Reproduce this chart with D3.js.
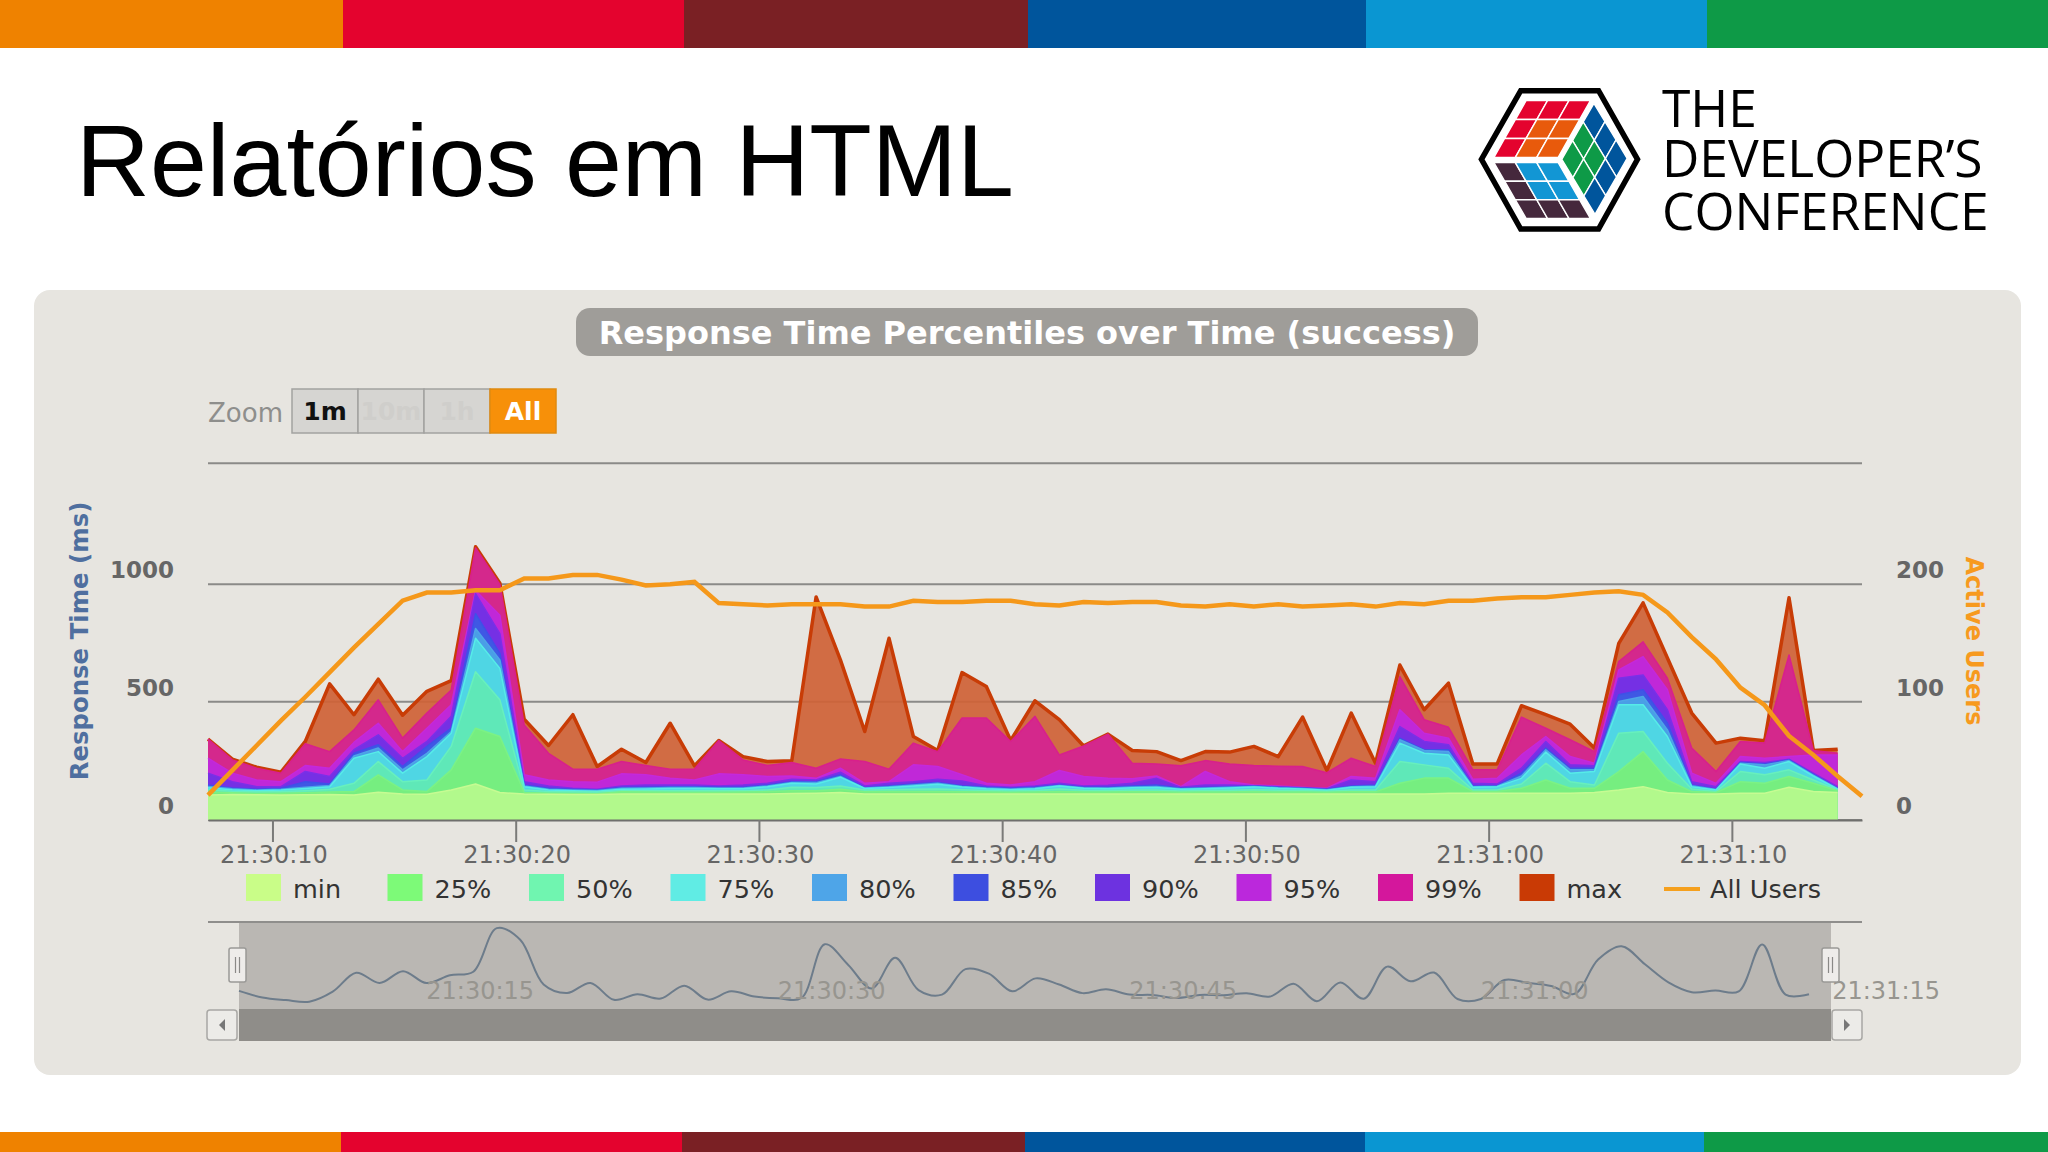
<!DOCTYPE html>
<html>
<head>
<meta charset="utf-8">
<title>Relatórios em HTML</title>
<script src="https://cdn.jsdelivr.net/npm/d3@7"></script>
<style>
  html, body { margin: 0; padding: 0; background: #fff; }
  svg { display: block; }
  text { font-family: "DejaVu Sans", sans-serif; }
</style>
</head>
<body>
<svg id="slide" width="2048" height="1152"></svg>
<script>
// Chart values, one point per second
const seriesNames = ["max", "99%", "95%", "90%", "85%", "80%", "75%", "50%", "25%", "min"];
const legendNames = ["min", "25%", "50%", "75%", "80%", "85%", "90%", "95%", "99%", "max"];
const legendColors = ["#c9fd88", "#7dfa78", "#70f5b0", "#60ece4", "#4ea5e8", "#3d4ee0", "#6d32e0", "#bb28dc", "#d4179c", "#c93a05"];
const areaColors = ["#cf6236", "#d4288c", "#c028d8", "#7530e4", "#3f58e4", "#4a9ee6", "#4fd6e4", "#5fe8b8", "#76ee80", "#b2f98c"];
const lineColors = ["#c83c06", "#d8208c", "#c428dc", "#7a30e8", "#3f50e8", "#4ea5e8", "#56ece8", "#68f0bc", "#7cf284", "#c6fb92"];

const maxValues = [342,257,223,202,332,576,445,596,443,544,590,1155,1004,426,315,445,226,299,243,409,229,336,268,247,250,946,678,374,770,353,294,624,565,336,504,424,313,363,294,289,251,289,287,311,268,435,209,452,240,656,466,579,237,237,483,445,405,304,748,921,686,452,325,346,335,943,294,299];
const p99Values = [342,254,219,198,322,289,381,508,346,452,550,1150,1000,402,282,215,215,247,230,215,216,336,254,230,243,219,258,247,215,325,289,431,431,332,438,275,313,363,240,237,229,251,237,230,227,226,200,261,226,607,424,392,212,212,435,388,339,289,671,755,600,304,205,332,325,699,294,282];
const p95Values = [261,198,169,162,230,219,328,409,289,388,487,974,868,191,169,162,160,195,191,176,169,195,191,184,186,176,219,155,162,233,226,191,155,148,162,209,184,176,174,186,141,205,162,148,144,138,134,184,176,466,367,346,172,176,275,353,268,240,635,692,551,198,155,268,261,268,275,275];
const p90Values = [198,162,141,141,205,184,297,360,261,332,438,960,790,162,144,134,130,144,148,148,148,144,148,155,172,169,202,144,155,162,172,165,144,138,144,155,144,147,155,176,138,148,148,145,141,136,132,169,162,395,332,318,155,152,219,332,233,229,600,614,466,162,141,247,243,257,198,141];
const p85Values = [148,135,130,134,162,152,282,318,226,311,388,875,706,148,134,130,127,137,138,141,141,138,138,148,162,162,191,136,144,152,158,145,138,134,138,148,138,138,144,148,134,137,141,144,138,135,130,144,148,346,297,297,144,145,198,304,219,219,530,551,410,148,130,243,237,254,193,134];
const p80Values = [142,132,127,130,138,146,271,304,212,282,374,812,678,144,130,127,125,134,135,137,137,135,135,144,158,158,184,135,141,148,155,142,135,131,135,146,136,135,140,142,132,135,138,142,136,133,128,141,144,339,294,289,141,143,186,297,212,212,501,522,381,145,129,240,233,251,190,132];
const p75Values = [136,128,124,127,133,141,261,289,198,268,367,770,642,141,127,124,122,130,131,133,133,132,132,141,155,152,181,133,137,144,151,139,132,128,132,144,134,132,136,137,130,132,135,140,134,131,126,138,141,325,282,275,138,141,176,287,198,205,487,487,353,141,127,237,219,247,186,130];
const p50Values = [128,122,119,120,124,130,155,247,162,169,311,628,508,127,120,119,118,124,124,124,124,124,124,127,138,137,144,127,128,130,131,128,125,123,125,131,126,125,127,127,123,125,126,128,126,125,122,127,127,247,233,219,127,127,152,240,162,148,367,374,240,131,120,205,191,212,169,127];
const p25Values = [118,115,112,113,115,118,120,191,127,120,212,388,353,116,113,112,111,119,118,117,117,117,118,120,124,124,130,119,120,120,120,119,118,117,118,120,118,118,119,119,117,118,118,120,118,118,117,119,119,155,177,177,120,120,134,169,134,134,205,289,169,120,116,162,155,184,155,124];
const minValues = [106,108,107,106,107,108,106,117,110,109,127,152,116,110,109,108,108,110,110,110,110,110,110,110,112,113,116,110,110,110,110,110,110,110,110,110,110,110,110,110,110,110,110,110,110,110,110,110,110,110,110,113,113,113,113,113,113,116,127,141,116,110,110,113,113,138,120,116];
const userValues = [21,42,63,84,104,125,146,166,186,193,193,195,195,205,205,208,208,204,199,200,202,184,183,182,183,183,183,181,181,186,185,185,186,186,183,182,185,184,185,185,182,181,183,181,183,181,182,183,181,184,183,186,186,188,189,189,191,193,194,191,176,155,136,112,97,71,55,37,20];

const allSeries = [maxValues, p99Values, p95Values, p90Values, p85Values, p80Values, p75Values, p50Values, p25Values, minValues];

// Axis ticks
const responseTicks = [0, 500, 1000, 1500];
const userTicks = [0, 100, 200];
const timeTicks = ["21:30:10", "21:30:20", "21:30:30", "21:30:40", "21:30:50", "21:31:00", "21:31:10"];
const navTicks = ["21:30:15", "21:30:30", "21:30:45", "21:31:00", "21:31:15"];
const zoomButtons = ["1m", "10m", "1h", "All"];

// Slide decoration
const stripColors = ["#ef8200", "#e4032e", "#7a2024", "#00559c", "#0a96d2", "#0e9a47"];
const topStripEdges = [0, 343, 684, 1028, 1366, 1707, 2048];
const bottomStripEdges = [0, 341, 682, 1025, 1365, 1704, 2048];

const svg = d3.select("#slide");
const parseTime = d3.timeParse("%H:%M:%S");
const formatTime = d3.timeFormat("%H:%M:%S");

// The first sample falls 2.65 s before the 21:30:10 tick
const startTime = new Date(+parseTime("21:30:10") - 2650);
const timeOf = i => new Date(+startTime + i * 1000);

const x = d3.scaleTime().domain([timeOf(0), timeOf(68)]).range([208, 1862]);
const y = d3.scaleLinear().domain(responseTicks).range([820, 701.7, 584.3, 463.3]);
const yUsers = d3.scaleLinear().domain(userTicks).range([820, 701.7, 584.3]);
const navX = d3.scaleTime().domain([timeOf(0), timeOf(67)]).range([239, 1809]);
const navY = d3.scaleLinear().domain([202, 1160]).range([1001.7, 927.7]);

// Colour strips at top and bottom of the slide
function drawStrip(edges, top, height) {
  svg.append("g").selectAll("rect")
    .data(stripColors)
    .join("rect")
    .attr("x", (d, i) => edges[i])
    .attr("width", (d, i) => edges[i + 1] - edges[i])
    .attr("y", top)
    .attr("height", height)
    .attr("fill", d => d);
}
drawStrip(topStripEdges, 0, 48);
drawStrip(bottomStripEdges, 1132, 20);

svg.append("text")
  .attr("x", 76).attr("y", 196)
  .style("font-family", "'Liberation Sans', sans-serif")
  .style("font-size", "102.3px")
  .attr("fill", "#000")
  .text("Relatórios em HTML");

// Logo: hexagon with a cube made of three 3x3 faces
function drawLogo() {
  const logo = svg.append("g");
  const sx = v => 1460 + v / 2.8;
  const sy = v => 70 + v / 3;
  const hexagon = [[60, 268], [170, 62], [388, 62], [497, 268], [388, 477], [170, 477]];
  logo.append("polygon")
    .attr("points", hexagon.map(p => [sx(p[0]), sy(p[1])].join(",")).join(" "))
    .attr("fill", "#fff").attr("stroke", "#000").attr("stroke-width", 5.5);

  const red = "#e4032e", org = "#e85a0c", dark = "#45283c", blu = "#1296d4", deep = "#00559c", grn = "#0e9a47";
  const faces = [
    { o: [185, 92], u: [180, 0], v: [-90, 170], cells: [[red, red, red], [red, org, org], [red, org, org]] },
    { o: [95, 278], u: [180, 0], v: [90, 167], cells: [[dark, blu, blu], [dark, blu, blu], [dark, dark, dark]] },
    { o: [375, 100], u: [93, 165], v: [-90, 168], cells: [[deep, grn, grn], [deep, grn, grn], [deep, deep, deep]] }
  ];
  faces.forEach(face => {
    face.cells.forEach((row, r) => {
      row.forEach((color, c) => {
        const corner = (a, b) => {
          const px = face.o[0] + face.u[0] * a / 3 + face.v[0] * b / 3;
          const py = face.o[1] + face.u[1] * a / 3 + face.v[1] * b / 3;
          return [sx(px), sy(py)].join(",");
        };
        const pts = face === faces[2]
          ? [corner(r, c), corner(r + 1, c), corner(r + 1, c + 1), corner(r, c + 1)]
          : [corner(c, r), corner(c + 1, r), corner(c + 1, r + 1), corner(c, r + 1)];
        logo.append("polygon")
          .attr("points", pts.join(" "))
          .attr("fill", color).attr("stroke", "#fff").attr("stroke-width", 1.4);
      });
    });
  });

  const words = [["THE", 127], ["DEVELOPER’S", 177], ["CONFERENCE", 230]];
  words.forEach(w => {
    logo.append("text")
      .attr("x", 1662).attr("y", w[1])
      .style("font-family", "'Open Sans', sans-serif")
      .style("font-size", "51.5px")
      .attr("fill", "#000")
      .text(w[0]);
  });
}
drawLogo();

// Grey report panel
svg.append("rect")
  .attr("x", 34).attr("y", 290).attr("width", 1987).attr("height", 785)
  .attr("rx", 16).attr("fill", "#e7e5e0");

svg.append("rect")
  .attr("x", 576).attr("y", 308).attr("width", 902).attr("height", 48)
  .attr("rx", 14).attr("fill", "#9f9d99");
svg.append("text")
  .attr("x", 1027).attr("y", 344)
  .attr("text-anchor", "middle")
  .style("font-size", "32px").style("font-weight", "bold")
  .attr("fill", "#fff")
  .text("Response Time Percentiles over Time (success)");

// Zoom buttons
svg.append("text")
  .attr("x", 208).attr("y", 422)
  .style("font-size", "26px")
  .attr("fill", "#8e8e8c")
  .text("Zoom");

const buttons = svg.append("g").selectAll("g")
  .data(zoomButtons)
  .join("g")
  .attr("transform", (d, i) => `translate(${292 + i * 66},389)`);
buttons.append("rect")
  .attr("width", 66).attr("height", 44)
  .attr("fill", d => d === "All" ? "#f79009" : "#d6d5d2")
  .attr("stroke", d => d === "All" ? "#e08a10" : "#a3a2a0")
  .attr("stroke-width", 1.5);
buttons.append("text")
  .attr("x", 33).attr("y", 31)
  .attr("text-anchor", "middle")
  .style("font-size", "25px").style("font-weight", "bold")
  .attr("fill", d => d === "All" ? "#fff" : d === "1m" ? "#111" : "#cfcecb")
  .text(d => d);

// Grid lines
svg.append("g").selectAll("line")
  .data(responseTicks)
  .join("line")
  .attr("x1", 208).attr("x2", 1862)
  .attr("y1", d => y(d)).attr("y2", d => y(d))
  .attr("stroke", "#8b8a88").attr("stroke-width", 2);

// Percentile areas, largest first so smaller ones sit on top
const area = d3.area()
  .x((d, i) => x(timeOf(i)))
  .y0(y(0))
  .y1(d => y(d));
const topLine = d3.line()
  .x((d, i) => x(timeOf(i)))
  .y(d => y(d));

const layers = svg.append("g").selectAll("g")
  .data(allSeries)
  .join("g")
  .attr("class", (d, i) => "series-" + i);
layers.append("path")
  .attr("d", area)
  .attr("fill", (d, i) => areaColors[i])
  .attr("fill-opacity", (d, i) => i === 0 ? 0.92 : 1);
layers.append("path")
  .attr("d", topLine)
  .attr("fill", "none")
  .attr("stroke", (d, i) => lineColors[i])
  .attr("stroke-width", (d, i) => i === 0 ? 3.5 : 1.5)
  .attr("stroke-linejoin", "round");

// Active users line
const usersLine = d3.line()
  .x((d, i) => x(timeOf(i)))
  .y(d => yUsers(d));
svg.append("path")
  .datum(userValues)
  .attr("d", usersLine)
  .attr("fill", "none")
  .attr("stroke", "#f5981a")
  .attr("stroke-width", 4.5);

// Bottom time axis
const xAxis = d3.axisBottom(x)
  .tickValues(timeTicks.map(parseTime))
  .tickFormat(formatTime)
  .tickSize(22)
  .tickSizeOuter(0);
const xAxisG = svg.append("g")
  .attr("transform", "translate(0,820)")
  .call(xAxis);
xAxisG.select(".domain").attr("stroke", "#6f6f6d").attr("stroke-width", 2);
xAxisG.selectAll(".tick line").attr("stroke", "#7a7a78").attr("stroke-width", 2);
xAxisG.selectAll(".tick text")
  .attr("x", 1).attr("y", 26).attr("dy", "0.71em")
  .style("font-family", "'DejaVu Sans', sans-serif")
  .style("font-size", "24px")
  .attr("fill", "#666");

// Left and right value labels
svg.append("g").selectAll("text")
  .data(responseTicks.slice(0, 3))
  .join("text")
  .attr("x", 174)
  .attr("y", d => y(d) - 6)
  .attr("text-anchor", "end")
  .style("font-size", "23px").style("font-weight", "bold")
  .attr("fill", "#666")
  .text(d => d);
svg.append("g").selectAll("text")
  .data(userTicks)
  .join("text")
  .attr("x", 1896)
  .attr("y", d => yUsers(d) - 6)
  .style("font-size", "23px").style("font-weight", "bold")
  .attr("fill", "#666")
  .text(d => d);

svg.append("text")
  .attr("transform", "translate(88,641) rotate(-90)")
  .attr("text-anchor", "middle")
  .style("font-size", "24.4px").style("font-weight", "bold")
  .attr("fill", "#4f6f9f")
  .text("Response Time (ms)");
svg.append("text")
  .attr("transform", "translate(1966,641) rotate(90)")
  .attr("text-anchor", "middle")
  .style("font-size", "24px").style("font-weight", "bold")
  .attr("fill", "#f79a1e")
  .text("Active Users");

// Legend
const legend = svg.append("g").selectAll("g")
  .data(legendNames)
  .join("g")
  .attr("transform", (d, i) => `translate(${246 + i * 141.5},874)`);
legend.append("rect")
  .attr("width", 35).attr("height", 27)
  .attr("fill", (d, i) => legendColors[i]);
legend.append("text")
  .attr("x", 47).attr("y", 24)
  .style("font-size", "25.5px")
  .attr("fill", "#333")
  .text(d => d);
svg.append("line")
  .attr("x1", 1664).attr("x2", 1700).attr("y1", 889).attr("y2", 889)
  .attr("stroke", "#f5a01e").attr("stroke-width", 4);
svg.append("text")
  .attr("x", 1710).attr("y", 898)
  .style("font-size", "25.5px")
  .attr("fill", "#333")
  .text("All Users");

// Navigator
svg.append("line")
  .attr("x1", 208).attr("x2", 1862).attr("y1", 922).attr("y2", 922)
  .attr("stroke", "#8f8e8c").attr("stroke-width", 2);
svg.append("rect")
  .attr("x", 239).attr("y", 923).attr("width", 1592).attr("height", 86)
  .attr("fill", "#bab7b3");

const navLine = d3.line()
  .x((d, i) => navX(timeOf(i)))
  .y(d => navY(d))
  .curve(d3.curveCatmullRom);
svg.append("path")
  .datum(maxValues)
  .attr("d", navLine)
  .attr("fill", "none")
  .attr("stroke", "#6d7c8b")
  .attr("stroke-width", 2);

svg.append("g").selectAll("text")
  .data(navTicks)
  .join("text")
  .attr("x", d => navX(parseTime(d)) + 8)
  .attr("y", 999)
  .style("font-size", "24px")
  .attr("fill", "#97958f")
  .text(d => d);

// Scrollbar under the navigator
svg.append("rect")
  .attr("x", 239).attr("y", 1009).attr("width", 1592).attr("height", 32)
  .attr("fill", "#8f8d89");

const scrollButtons = [{ left: 207, dir: -1 }, { left: 1832, dir: 1 }];
const scroll = svg.append("g").selectAll("g")
  .data(scrollButtons)
  .join("g")
  .attr("transform", d => `translate(${d.left},1010)`);
scroll.append("rect")
  .attr("width", 30).attr("height", 30).attr("rx", 3)
  .attr("fill", "#ecebe8").attr("stroke", "#a8a7a4").attr("stroke-width", 1.5);
scroll.append("path")
  .attr("d", d => d.dir < 0 ? "M12,15L18,9V21Z" : "M18,15L12,9V21Z")
  .attr("fill", "#777");

// Navigator handles
const handles = svg.append("g").selectAll("g")
  .data([229, 1822])
  .join("g")
  .attr("transform", d => `translate(${d},948)`);
handles.append("rect")
  .attr("width", 17).attr("height", 34).attr("rx", 2)
  .attr("fill", "#eeecea").attr("stroke", "#9a9997").attr("stroke-width", 1.5);
handles.selectAll("line")
  .data([6.5, 10.5])
  .join("line")
  .attr("x1", d => d).attr("x2", d => d)
  .attr("y1", 9).attr("y2", 25)
  .attr("stroke", "#8a8987").attr("stroke-width", 1.2);
</script>
</body>
</html>
